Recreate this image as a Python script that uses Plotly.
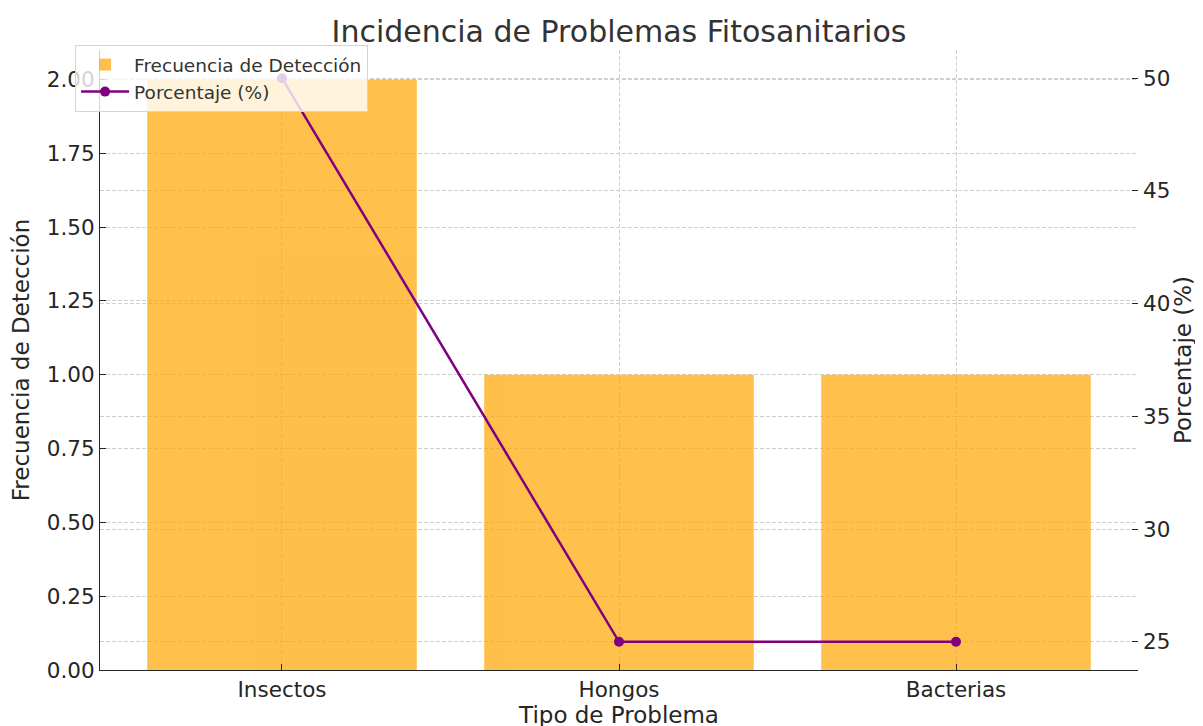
import plotly.graph_objects as go

categorias = ['Insectos', 'Hongos', 'Bacterias']
frecuencia = [2, 1, 1]
porcentaje = [50, 25, 25]

font_family = 'DejaVu Sans'
grid_color = '#cfcfcf'
grid_dash = '4px,2px'
ink = '#262626'

fig = go.Figure()
fig.add_trace(go.Bar(x=categorias, y=frecuencia, name='Frecuencia de Detección',
                     marker=dict(color='orange', line=dict(width=0)), opacity=0.7,
                     width=0.8, yaxis='y'))
fig.add_trace(go.Scatter(x=categorias, y=porcentaje, name='Porcentaje (%)',
                         mode='lines+markers', line=dict(color='purple', width=2.5),
                         marker=dict(color='purple', size=10), yaxis='y2'))

fig.update_layout(
    width=1203, height=726,
    margin=dict(l=92, r=73, t=42, b=64, autoexpand=False),
    paper_bgcolor='white', plot_bgcolor='white',
    font=dict(family=font_family, size=19, color=ink),
    title=dict(text='Incidencia de Problemas Fitosanitarios', x=0.5, xref='paper',
               y=0.968, yref='container', xanchor='center', yanchor='middle',
               font=dict(size=30, color='#333333')),
    showlegend=True,
    legend=dict(x=-0.024, y=1.008, xanchor='left', yanchor='top', itemwidth=48,
                bgcolor='rgba(255,255,255,0.8)', bordercolor='#d5d5d5', borderwidth=1,
                font=dict(size=18.5, color='#333333'), tracegroupgap=0),
    xaxis=dict(range=[-0.54, 2.54], showline=True, linecolor=ink, linewidth=1.2,
               ticks='inside', ticklen=6, tickcolor=ink, tickfont=dict(size=21.5),
               showgrid=True, gridcolor=grid_color, griddash=grid_dash, gridwidth=1,
               automargin=False,
               title=dict(text='Tipo de Problema', standoff=2), zeroline=False),
    yaxis=dict(range=[0, 2.1], tickvals=[0, 0.25, 0.5, 0.75, 1.0, 1.25, 1.5, 1.75, 2.0],
               tickformat='.2f', showline=True, linecolor=ink, linewidth=1.2,
               ticks='inside', ticklen=6, tickcolor=ink, tickfont=dict(size=21.5),
               showgrid=True, gridcolor=grid_color, griddash=grid_dash, gridwidth=1,
               automargin=False,
               zeroline=False, title=dict(text='Frecuencia de Detección', standoff=10)),
    yaxis2=dict(range=[23.75, 51.25], tickvals=[25, 30, 35, 40, 45, 50], overlaying='y',
                anchor='x', side='right', showline=False, ticks='inside', ticklen=6,
                tickcolor=ink, tickfont=dict(size=21.5), ticklabelstandoff=4,
                showgrid=True, gridcolor=grid_color, griddash=grid_dash, gridwidth=1,
                automargin=False,
                zeroline=False, title=dict(text='Porcentaje (%)', standoff=5)),
)

fig.write_html('out.html')
